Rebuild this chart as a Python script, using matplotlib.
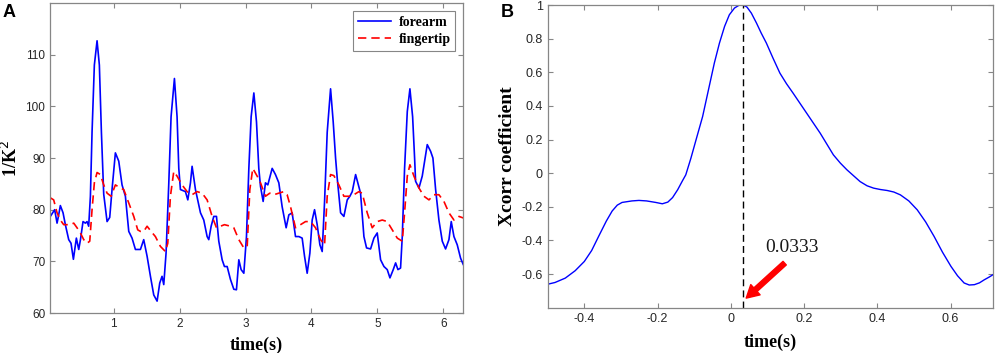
import matplotlib
matplotlib.use('Agg')
import matplotlib.pyplot as plt
import numpy as np

# Panel A: 1/K^2 over time
forearm_t = [0.038, 0.074, 0.104, 0.140, 0.165, 0.190, 0.231, 0.266, 0.317, 0.352,
             0.388, 0.433, 0.469, 0.495, 0.534, 0.570, 0.595, 0.620, 0.646, 0.671,
             0.706, 0.747, 0.782, 0.813, 0.848, 0.899, 0.939, 0.975, 1.025, 1.076,
             1.126, 1.177, 1.228, 1.278, 1.329, 1.405, 1.455, 1.506, 1.557, 1.607,
             1.658, 1.698, 1.733, 1.759, 1.794, 1.835, 1.870, 1.921, 1.961, 1.987,
             2.012, 2.088, 2.124, 2.164, 2.189, 2.240, 2.316, 2.366, 2.417, 2.442,
             2.478, 2.518, 2.559, 2.594, 2.645, 2.680, 2.721, 2.771, 2.822, 2.862,
             2.898, 2.933, 2.974, 3.014, 3.050, 3.085, 3.126, 3.166, 3.201, 3.227,
             3.267, 3.302, 3.338, 3.404, 3.454, 3.505, 3.555, 3.616, 3.657, 3.707,
             3.758, 3.809, 3.859, 3.895, 3.935, 3.976, 4.011, 4.047, 4.087, 4.128,
             4.163, 4.199, 4.239, 4.290, 4.330, 4.366, 4.391, 4.442, 4.492, 4.543,
             4.583, 4.619, 4.670, 4.745, 4.796, 4.836, 4.897, 4.948, 4.998, 5.049,
             5.100, 5.150, 5.191, 5.241, 5.277, 5.312, 5.352, 5.378, 5.413, 5.454,
             5.494, 5.535, 5.565, 5.580, 5.631, 5.681, 5.757, 5.808, 5.843, 5.884,
             5.934, 5.985, 6.035, 6.086, 6.121, 6.162, 6.212, 6.263, 6.303]
forearm = [78.7, 79.4, 80.0, 77.4, 79.0, 80.8, 79.4, 77.1, 74.2, 73.5,
           70.4, 74.5, 72.3, 74.2, 77.7, 77.4, 77.7, 76.8, 82.6, 95.0,
           108.0, 112.7, 108.0, 95.0, 83.0, 77.7, 78.5, 84.0, 91.0, 89.4,
           84.8, 82.6, 75.8, 74.5, 72.3, 72.3, 74.2, 71.0, 67.1, 63.5,
           62.3, 65.8, 67.1, 65.5, 71.6, 85.0, 98.0, 105.4, 98.0, 88.0,
           83.9, 83.5, 81.9, 85.2, 88.4, 83.9, 79.4, 78.0, 74.8, 74.2,
           76.8, 78.7, 78.7, 73.9, 70.3, 69.0, 69.0, 66.5, 64.6, 64.5,
           70.3, 68.4, 67.7, 74.8, 88.0, 98.0, 102.6, 97.0, 88.0, 84.5,
           81.6, 85.2, 84.8, 88.0, 86.8, 85.2, 80.6, 76.5, 79.0, 79.4,
           74.8, 74.8, 74.5, 71.0, 67.7, 71.6, 78.0, 80.0, 77.1, 73.2,
           71.9, 81.6, 95.0, 103.4, 97.0, 90.0, 86.1, 79.4, 78.7, 81.9,
           82.6, 83.5, 86.8, 83.2, 74.8, 72.6, 72.4, 74.5, 75.5, 70.3,
           69.0, 68.4, 66.8, 68.4, 69.7, 68.4, 68.7, 74.8, 88.0, 99.0,
           103.4, 98.0, 90.0, 85.5, 84.2, 86.5, 92.6, 91.3, 90.0, 83.9,
           78.0, 73.9, 72.4, 74.2, 77.7, 74.8, 73.2, 70.6, 69.4]

fingertip_t = [0.038, 0.089, 0.140, 0.190, 0.241, 0.342, 0.393, 0.443, 0.494, 0.545,
               0.595, 0.636, 0.671, 0.706, 0.747, 0.798, 0.848, 0.899, 0.960, 1.025,
               1.101, 1.152, 1.228, 1.304, 1.364, 1.405, 1.455, 1.506, 1.567, 1.632,
               1.708, 1.784, 1.820, 1.860, 1.911, 1.961, 2.037, 2.113, 2.189, 2.265,
               2.341, 2.417, 2.493, 2.559, 2.620, 2.680, 2.771, 2.822, 2.898, 2.974,
               3.025, 3.065, 3.110, 3.176, 3.227, 3.302, 3.368, 3.429, 3.505, 3.581,
               3.631, 3.682, 3.758, 3.834, 3.910, 3.986, 4.062, 4.138, 4.199, 4.239,
               4.290, 4.340, 4.416, 4.492, 4.568, 4.644, 4.720, 4.770, 4.846, 4.922,
               4.998, 5.074, 5.150, 5.226, 5.302, 5.378, 5.413, 5.454, 5.494, 5.555,
               5.631, 5.707, 5.783, 5.859, 5.934, 6.010, 6.086, 6.162, 6.238, 6.303]
fingertip = [82.3, 81.9, 79.4, 78.0, 77.1, 77.1, 77.4, 76.5, 75.5, 74.2,
             73.5, 73.9, 80.0, 85.2, 87.2, 86.8, 84.8, 83.2, 82.6, 84.8,
             84.2, 83.9, 81.3, 78.7, 76.1, 75.8, 75.8, 76.8, 75.8, 74.8,
             72.9, 71.9, 73.5, 82.6, 87.4, 86.5, 84.8, 83.5, 82.9, 83.5,
             83.2, 81.9, 78.7, 76.5, 76.8, 77.1, 76.8, 76.5, 74.2, 72.6,
             72.9, 83.9, 88.0, 86.5, 85.2, 82.6, 83.2, 82.9, 83.2, 83.5,
             82.9, 80.6, 76.5, 77.1, 77.7, 77.7, 76.5, 74.2, 73.2, 82.6,
             86.8, 86.6, 84.8, 82.6, 82.6, 82.9, 83.5, 83.2, 79.4, 76.5,
             77.7, 78.0, 77.7, 76.1, 74.5, 73.9, 79.4, 86.5, 88.7, 86.5,
             84.2, 82.6, 81.9, 82.9, 82.9, 81.6, 79.4, 78.0, 78.7, 78.4]

# Panel B: cross-correlation vs lag
lag = [-0.505, -0.480, -0.452, -0.425, -0.400, -0.380, -0.361, -0.340, -0.324, -0.310,
       -0.297, -0.270, -0.251, -0.230, -0.205, -0.187, -0.172, -0.159, -0.145, -0.132,
       -0.123, -0.109, -0.095, -0.077, -0.059, -0.045, -0.031, -0.017, -0.004, 0.010,
       0.022, 0.033, 0.044, 0.056, 0.070, 0.083, 0.097, 0.115, 0.134, 0.152,
       0.170, 0.207, 0.244, 0.280, 0.299, 0.317, 0.335, 0.353, 0.372, 0.390,
       0.408, 0.427, 0.445, 0.463, 0.486, 0.509, 0.532, 0.555, 0.578, 0.601,
       0.619, 0.637, 0.651, 0.665, 0.679, 0.692, 0.706, 0.720]
xcorr = [-0.663, -0.650, -0.624, -0.580, -0.525, -0.460, -0.376, -0.285, -0.225, -0.190,
         -0.174, -0.165, -0.162, -0.165, -0.174, -0.182, -0.172, -0.145, -0.098, -0.045,
         -0.010, 0.089, 0.198, 0.337, 0.516, 0.655, 0.774, 0.873, 0.942, 0.982,
         0.998, 1.000, 0.988, 0.952, 0.893, 0.833, 0.774, 0.685, 0.595, 0.532,
         0.476, 0.357, 0.238, 0.109, 0.060, 0.020, -0.015, -0.050, -0.075, -0.089,
         -0.097, -0.103, -0.112, -0.129, -0.165, -0.218, -0.290, -0.376, -0.470, -0.554,
         -0.610, -0.653, -0.665, -0.663, -0.652, -0.634, -0.617, -0.598]
peak_lag = 0.0333

sans = ['Liberation Sans', 'DejaVu Sans']
serif = ['Liberation Serif', 'DejaVu Serif']
spine_c = '#868686'
tick_c = '#262626'

fig = plt.figure(figsize=(9.96, 3.53), dpi=100)
axA = fig.add_axes([0.0502, 0.1133, 0.4147, 0.878])
axB = fig.add_axes([0.5499, 0.1283, 0.4474, 0.8575])


def style(ax, size):
    for s in ax.spines.values():
        s.set_color(spine_c)
        s.set_linewidth(0.9)
    ax.tick_params(direction='in', length=3.5, width=0.8, color=spine_c,
                   top=True, right=True, labelcolor=tick_c, labelsize=size, pad=3.5)
    for lab in ax.get_xticklabels() + ax.get_yticklabels():
        lab.set_family(sans)


# --- panel A ---
axA.plot(forearm_t, forearm, color='#0000ff', lw=1.2, label='forearm')
axA.plot(fingertip_t, fingertip, color='#ff0000', lw=1.2, ls=(0, (5, 3)), label='fingertip')
axA.set_xlim(0.033, 6.3)
axA.set_ylim(60, 120)
axA.set_xticks([1, 2, 3, 4, 5, 6])
axA.set_yticks([60, 70, 80, 90, 100, 110])
style(axA, 8.5)
axA.set_xlabel('time(s)', family=serif, fontweight='bold', fontsize=13)
axA.xaxis.set_label_coords(0.5, -0.075)
axA.xaxis.label.set_va('top')
axA.set_ylabel('1/K$^2$', family=serif, fontweight='bold', fontsize=13)
axA.yaxis.set_label_coords(-0.07, 0.5)
leg = axA.legend(loc='upper right', fancybox=False, edgecolor=spine_c, framealpha=1,
                 borderaxespad=0.55, handlelength=2.4, handletextpad=0.5,
                 labelspacing=0.3, borderpad=0.35,
                 prop={'family': serif, 'weight': 'bold', 'size': 10})
leg.get_frame().set_linewidth(0.8)
fig.text(0.003, 0.99, 'A', family=sans, fontweight='bold', fontsize=13, va='top', ha='left')

# --- panel B ---
axB.plot(lag, xcorr, color='#0000ff', lw=1.0)
axB.axvline(peak_lag, color='black', ls=(0, (5, 3)), lw=1.0)
axB.set_xlim(-0.5, 0.7167)
axB.set_ylim(-0.8, 1)
axB.set_xticks([-0.4, -0.2, 0, 0.2, 0.4, 0.6])
axB.set_xticklabels(['-0.4', '-0.2', '0', '0.2', '0.4', '0.6'])
axB.set_yticks([-0.6, -0.4, -0.2, 0, 0.2, 0.4, 0.6, 0.8, 1])
axB.set_yticklabels(['-0.6', '-0.4', '-0.2', '0', '0.2', '0.4', '0.6', '0.8', '1'])
style(axB, 9)
axB.set_xlabel('time(s)', family=serif, fontweight='bold', fontsize=13)
axB.xaxis.set_label_coords(0.5, -0.085)
axB.xaxis.label.set_va('top')
axB.set_ylabel('Xcorr coefficient', family=serif, fontweight='bold', fontsize=14)
axB.yaxis.set_label_coords(-0.072, 0.5)
axB.annotate('', xy=(0.042, -0.743), xytext=(0.147, -0.535),
             arrowprops=dict(facecolor='red', edgecolor='red', width=3.5,
                             headwidth=10, headlength=9, shrink=0))
axB.text(0.095, -0.49, '%.4f' % peak_lag, family=serif, fontsize=14,
         ha='left', va='bottom', color='#1a1a1a')
fig.text(0.503, 0.99, 'B', family=sans, fontweight='bold', fontsize=13, va='top', ha='left')

fig.savefig('out.png', dpi=100)
